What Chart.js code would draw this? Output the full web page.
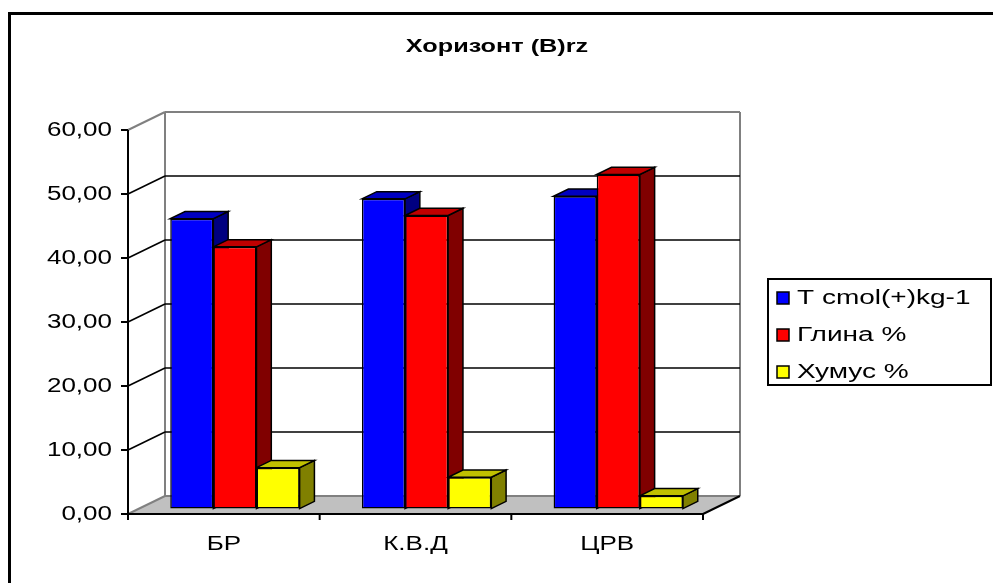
<!DOCTYPE html>
<html><head><meta charset="utf-8">
<script src="https://cdn.jsdelivr.net/npm/chart.js@4.4.1/dist/chart.umd.min.js"></script>
<style>html,body{margin:0;padding:0;background:#fff}canvas{display:block}</style>
</head><body>
<canvas id="c" width="993" height="583"></canvas>
<script>
// ---- data ----
const titleText = 'Хоризонт (B)rz';
const categories = ['БР', 'К.В.Д', 'ЦРВ'];
const seriesNames = ['T cmol(+)kg-1', 'Глина %', 'Хумус %'];
const tValues = [45.3, 48.4, 48.8];
const glinaValues = [40.9, 45.8, 52.2];
const humusValues = [6.4, 4.9, 2.0];
const yTickValues = [0, 10, 20, 30, 40, 50, 60];
const yTickLabels = ['0,00', '10,00', '20,00', '30,00', '40,00', '50,00', '60,00'];

// ---- styling ----
const FONT = "'Liberation Sans', Arial, sans-serif";
const faceColors = ['#0000FF', '#FF0000', '#FFFF00'];
const topColors = ['#0000C0', '#C00000', '#C0C000'];
const sideColors = ['#000080', '#800000', '#808000'];
const DEPTH = { x: 37, y: -18 };       // full floor depth vector
const FRONT_F = 0.3, BAR_F = 0.4;     // bar position / depth as fractions of floor depth

function stretchText(ctx, text, x, y, font, align, sx, color) {
  ctx.save();
  ctx.font = font;
  ctx.fillStyle = color || '#000';
  ctx.textAlign = align;
  ctx.textBaseline = 'middle';
  ctx.translate(x, y);
  ctx.scale(sx, 1);
  ctx.fillText(text, 0, 0);
  ctx.restore();
}
function line(ctx, x1, y1, x2, y2, color, w) {
  ctx.beginPath(); ctx.moveTo(x1, y1); ctx.lineTo(x2, y2);
  ctx.strokeStyle = color; ctx.lineWidth = w; ctx.stroke();
}
function poly(ctx, pts, fill, stroke, w) {
  ctx.beginPath(); ctx.moveTo(pts[0][0], pts[0][1]);
  for (let i = 1; i < pts.length; i++) ctx.lineTo(pts[i][0], pts[i][1]);
  ctx.closePath();
  if (fill) { ctx.fillStyle = fill; ctx.fill(); }
  if (stroke) { ctx.strokeStyle = stroke; ctx.lineWidth = w; ctx.lineJoin = 'miter'; ctx.stroke(); }
}

const scene3d = {
  id: 'scene3d',
  beforeDraw(chart) {
    const ctx = chart.ctx, a = chart.chartArea, ys = chart.scales.y;
    ctx.save();
    ctx.fillStyle = '#fff'; ctx.fillRect(0, 0, chart.width, chart.height);
    // outer frame
    ctx.strokeStyle = '#000'; ctx.lineWidth = 3;
    ctx.strokeRect(9.5, 13.5, 1100, 700);
    const L = a.left, R = a.right, B = ys.getPixelForValue(0), T = ys.getPixelForValue(60);
    const dx = DEPTH.x, dy = DEPTH.y;
    // floor
    poly(ctx, [[L, B], [R, B], [R + dx, B + dy], [L + dx, B + dy]], '#C0C0C0', null, 0);
    // back wall outline (gray)
    line(ctx, L + dx, B + dy, L + dx, T + dy, '#808080', 2);
    line(ctx, R + dx, B + dy, R + dx, T + dy, '#808080', 2);
    line(ctx, L + dx, T + dy, R + dx, T + dy, '#808080', 2);
    line(ctx, L, T, L + dx, T + dy, '#808080', 2);
    line(ctx, L, B, L + dx, B + dy, '#808080', 2);
    line(ctx, L + dx, B + dy, R + dx, B + dy, '#808080', 2);
    // gridlines on back wall + side diagonals
    yTickValues.forEach(v => {
      if (v === 0 || v === 60) return;
      const y = ys.getPixelForValue(v);
      line(ctx, L, y, L + dx, y + dy, '#000', 1.6);
      line(ctx, L + dx, y + dy, R + dx, y + dy, '#000', 1.6);
    });
    // floor front edge and right edge
    line(ctx, L, B, R, B, '#000', 2);
    line(ctx, R, B, R + dx, B + dy, '#000', 2);
    ctx.restore();
  },
  beforeDatasetsDraw(chart) {
    const ctx = chart.ctx;
    ctx.save();
    ctx.translate(DEPTH.x * FRONT_F, DEPTH.y * FRONT_F);
    const bx = DEPTH.x * BAR_F, by = DEPTH.y * BAR_F;
    chart.data.datasets.forEach((ds, di) => {
      const meta = chart.getDatasetMeta(di);
      meta.data.forEach(el => {
        const p = el.getProps(['x', 'y', 'base', 'width'], true);
        const l = p.x - p.width / 2, r = p.x + p.width / 2;
        poly(ctx, [[r, p.y], [r + bx, p.y + by], [r + bx, p.base + by], [r, p.base]], sideColors[di], '#000', 1.5);
        poly(ctx, [[l, p.y], [l + bx, p.y + by], [r + bx, p.y + by], [r, p.y]], topColors[di], '#000', 1.5);
      });
    });
  },
  afterDatasetsDraw(chart) {
    chart.ctx.restore();
  },
  afterDraw(chart) {
    const ctx = chart.ctx, a = chart.chartArea, ys = chart.scales.y, xs = chart.scales.x;
    const L = a.left, R = a.right, B = ys.getPixelForValue(0), T = ys.getPixelForValue(60);
    ctx.save();
    // value axis
    line(ctx, L, T, L, B + 1, '#000', 2);
    yTickValues.forEach((v, i) => {
      const y = ys.getPixelForValue(v);
      line(ctx, L - 7, y, L, y, '#000', 2);
      stretchText(ctx, yTickLabels[i], L - 16, y, '20px ' + FONT, 'right', 1.3);
    });
    // category axis ticks and labels
    const step = (R - L) / categories.length;
    for (let i = 0; i <= categories.length; i++) {
      const x = L + step * i;
      line(ctx, x, B, x, B + 6, '#000', 2);
    }
    categories.forEach((c, i) => {
      stretchText(ctx, c, xs.getPixelForValue(i), 544, '20px ' + FONT, 'center', 1.3);
    });
    // title
    stretchText(ctx, titleText, 497, 47, 'bold 19px ' + FONT, 'center', 1.33);
    // legend
    ctx.strokeStyle = '#000'; ctx.lineWidth = 2;
    ctx.strokeRect(768, 279, 223, 106);
    seriesNames.forEach((n, i) => {
      const y = 298 + i * 37;
      ctx.fillStyle = faceColors[i];
      ctx.fillRect(777, y - 6, 12, 12);
      ctx.lineWidth = 1.5; ctx.strokeStyle = '#000';
      ctx.strokeRect(777, y - 6, 12, 12);
      stretchText(ctx, n, 797, y, '20px ' + FONT, 'left', 1.4);
    });
    ctx.restore();
  }
};

const mk = (label, data, i) => ({
  label, data,
  backgroundColor: faceColors[i],
  borderColor: '#000',
  borderWidth: 1.5,
  borderSkipped: false,
  barPercentage: 1.0,
  categoryPercentage: 0.675,
  clip: false
});

new Chart(document.getElementById('c'), {
  type: 'bar',
  data: {
    labels: categories,
    datasets: [
      mk(seriesNames[0], tValues, 0),
      mk(seriesNames[1], glinaValues, 1),
      mk(seriesNames[2], humusValues, 2)
    ]
  },
  options: {
    responsive: false,
    animation: false,
    events: [],
    layout: { padding: { left: 128, top: 130, right: 290, bottom: 69 } },
    plugins: { legend: { display: false }, title: { display: false }, tooltip: { enabled: false } },
    scales: {
      x: { display: false, offset: true },
      y: { display: false, min: 0, max: 60 }
    }
  },
  plugins: [scene3d]
});
</script>
</body></html>
